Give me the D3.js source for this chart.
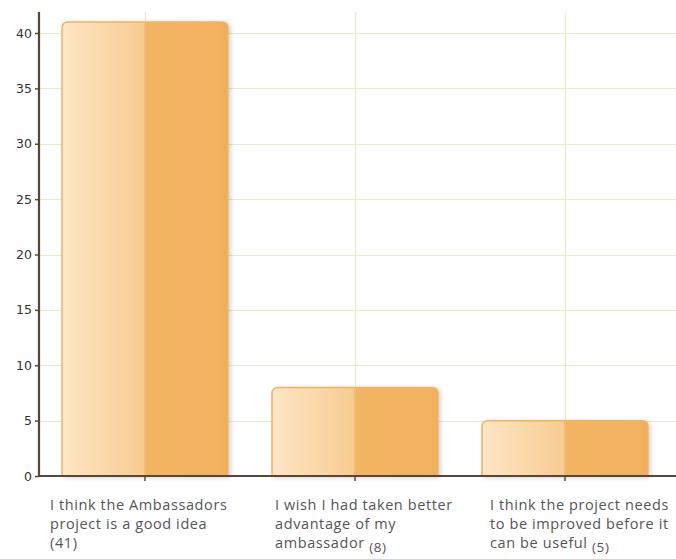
<!DOCTYPE html>
<html><head><meta charset="utf-8">
<script src="https://cdn.jsdelivr.net/npm/d3@7/dist/d3.min.js"></script>
<style>body{margin:0;background:#fff}svg{display:block}</style>
</head><body><svg id="c" width="676" height="559"></svg>
<script>
const categories = ["I think the Ambassadors project is a good idea", "I wish I had taken better advantage of my ambassador", "I think the project needs to be improved before it can be useful"];
const values = [41, 8, 5];
const labelLines = [
  [["I think the Ambassadors"], ["project is a good idea"], ["(41)"]],
  [["I wish I had taken better"], ["advantage of my"], ["ambassador ", "(8)"]],
  [["I think the project needs"], ["to be improved before it"], ["can be useful  ", "(5)"]]
];
const yTicks = [0, 5, 10, 15, 20, 25, 30, 35, 40];

const svg = d3.select("#c");
const x0 = 39, x1 = 676, yTop = 12, yBase = 476;
const x = d3.scaleBand().domain(categories).range([40, 670]).paddingInner(0.21).paddingOuter(0.105);
const y = d3.scaleLinear().domain([0, 40]).range([yBase, 33]);

const defs = svg.append("defs");
const g1 = defs.append("linearGradient").attr("id", "barg").attr("x1", "0").attr("x2", "1").attr("y1", "0").attr("y2", "0");
g1.append("stop").attr("offset", "0").attr("stop-color", "#fde6c8");
g1.append("stop").attr("offset", "0.03").attr("stop-color", "#fde4c2");
g1.append("stop").attr("offset", "0.49").attr("stop-color", "#f8cc92");
g1.append("stop").attr("offset", "0.5").attr("stop-color", "#f3b462");
g1.append("stop").attr("offset", "0.95").attr("stop-color", "#f3b262");
g1.append("stop").attr("offset", "1").attr("stop-color", "#f1ad5a");
const f = defs.append("filter").attr("id", "sh").attr("x", "-10%").attr("y", "-10%").attr("width", "125%").attr("height", "125%");
f.append("feDropShadow").attr("dx", 2).attr("dy", 1).attr("stdDeviation", 2).attr("flood-color", "#000").attr("flood-opacity", 0.18);

// grid
svg.append("g").selectAll("line").data(yTicks.filter(d => d > 0)).join("line")
  .attr("x1", x0).attr("x2", x1).attr("y1", d => Math.round(y(d)) + 0.5).attr("y2", d => Math.round(y(d)) + 0.5)
  .attr("stroke", "#eaeacb").attr("stroke-width", 1.2);
svg.append("g").selectAll("line").data(categories).join("line")
  .attr("x1", d => Math.round(x(d) + x.bandwidth() / 2) + 0.5).attr("x2", d => Math.round(x(d) + x.bandwidth() / 2) + 0.5)
  .attr("y1", yTop).attr("y2", yBase)
  .attr("stroke", "#eaeacb").attr("stroke-width", 1.2);

// bars
const r = 6;
function barPath(xl, w, yt, yb) {
  return `M${xl},${yb} L${xl},${yt + r} Q${xl},${yt} ${xl + r},${yt} L${xl + w - r},${yt} Q${xl + w},${yt} ${xl + w},${yt + r} L${xl + w},${yb} Z`;
}
svg.append("g").selectAll("path").data(categories).join("path")
  .attr("d", (d, i) => barPath(x(d), x.bandwidth(), y(values[i]), yBase))
  .attr("fill", "url(#barg)").attr("stroke", "#eab56a").attr("stroke-width", 1.5)
  .attr("filter", "url(#sh)");
svg.append("g").selectAll("line").data(categories).join("line")
  .attr("x1", d => x(d) + x.bandwidth() / 2 + 0.5).attr("x2", d => x(d) + x.bandwidth() / 2 + 0.5)
  .attr("y1", (d, i) => y(values[i]) + 1).attr("y2", yBase)
  .attr("stroke", "#f0c48a").attr("stroke-width", 1).attr("opacity", 0.6);

// axes
const ya = svg.append("g").attr("transform", `translate(${x0},0)`)
  .call(d3.axisLeft(y).tickValues(yTicks).tickSize(4).tickPadding(3));
ya.select(".domain").remove();
ya.selectAll(".tick line").attr("stroke", "#5b4636").attr("stroke-width", 1.5);
ya.selectAll(".tick text").attr("fill", "#333").style("font-family", "'DejaVu Sans', sans-serif").style("font-size", "12.5px");
svg.append("line").attr("x1", x0).attr("x2", x0).attr("y1", yTop).attr("y2", yBase + 1)
  .attr("stroke", "#5b4636").attr("stroke-width", 2.2);
svg.append("line").attr("x1", x0 - 1).attr("x2", x1).attr("y1", yBase).attr("y2", yBase)
  .attr("stroke", "#5b4636").attr("stroke-width", 2.2);
svg.append("g").selectAll("line").data(categories).join("line")
  .attr("x1", d => x(d) + x.bandwidth() / 2).attr("x2", d => x(d) + x.bandwidth() / 2)
  .attr("y1", yBase).attr("y2", yBase + 5).attr("stroke", "#5b4636").attr("stroke-width", 1.5);

// category labels
const labelX = [50, 275, 490];
const lg = svg.append("g").style("font-family", "'Open Sans', sans-serif").style("font-size", "14.5px").style("letter-spacing", "0.6px").attr("fill", "#555");
labelLines.forEach((lines, i) => {
  lines.forEach((parts, j) => {
    const t = lg.append("text").attr("x", labelX[i]).attr("y", 510 + j * 19);
    t.append("tspan").text(parts[0]);
    if (parts[1]) t.append("tspan").attr("dy", 4).style("font-size", "13.5px").text(parts[1]);
  });
});
</script></body></html>
